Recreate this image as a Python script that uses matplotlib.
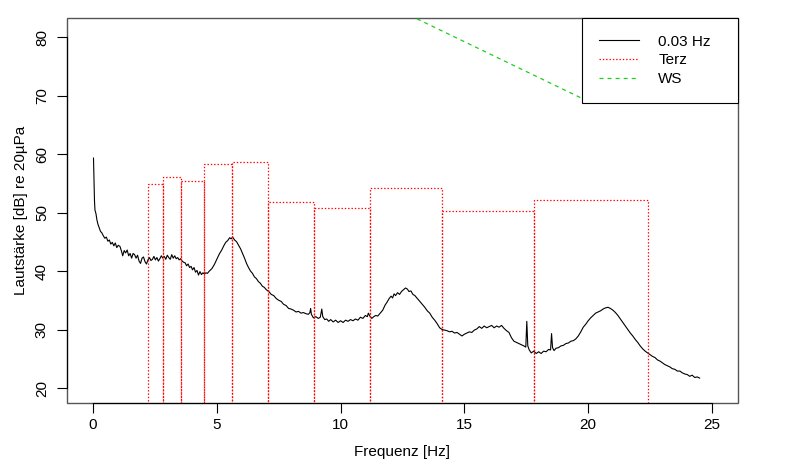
import numpy as np
import matplotlib
matplotlib.use('Agg')
import matplotlib.pyplot as plt
from matplotlib.patches import Rectangle

plt.rcParams['font.family'] = ['Liberation Sans', 'DejaVu Sans']
plt.rcParams['lines.scale_dashes'] = False

## spectrum (0.03 Hz resolution line)
freq = [0.02, 0.04, 0.06, 0.08, 0.12, 0.16, 0.2, 0.25, 0.3, 0.36, 0.42, 0.48, 0.54, 0.6, 0.66, 0.72,
        0.78, 0.84, 0.9, 0.96, 1.02, 1.09, 1.15, 1.2, 1.26, 1.32, 1.38, 1.44, 1.5, 1.56, 1.62, 1.68,
        1.74, 1.8, 1.86, 1.92, 1.98, 2.04, 2.1, 2.16, 2.22, 2.28, 2.34, 2.4, 2.46, 2.52, 2.58, 2.64,
        2.7, 2.76, 2.82, 2.88, 2.94, 3.0, 3.06, 3.12, 3.18, 3.24, 3.3, 3.36, 3.42, 3.48, 3.54, 3.6,
        3.66, 3.72, 3.78, 3.84, 3.9, 3.96, 4.02, 4.08, 4.14, 4.2, 4.26, 4.32, 4.38, 4.44, 4.5, 4.56,
        4.62, 4.7, 4.8, 4.9, 5.0, 5.1, 5.2, 5.28, 5.36, 5.44, 5.52, 5.58, 5.64, 5.72, 5.8, 5.88,
        5.96, 6.04, 6.12, 6.2, 6.28, 6.36, 6.44, 6.52, 6.6, 6.68, 6.76, 6.84, 6.92, 7.0, 7.1, 7.2,
        7.3, 7.4, 7.5, 7.6, 7.7, 7.8, 7.9, 8.0, 8.1, 8.2, 8.3, 8.4, 8.5, 8.6, 8.7, 8.76, 8.79, 8.82,
        8.9, 9.0, 9.1, 9.18, 9.24, 9.28, 9.36, 9.44, 9.52, 9.6, 9.7, 9.8, 9.9, 10.0, 10.1, 10.2,
        10.3, 10.4, 10.5, 10.6, 10.7, 10.8, 10.9, 11.0, 11.08, 11.12, 11.18, 11.26, 11.34, 11.42,
        11.5, 11.6, 11.7, 11.8, 11.88, 11.96, 12.04, 12.1, 12.16, 12.22, 12.3, 12.38, 12.46, 12.54,
        12.62, 12.7, 12.76, 12.84, 12.92, 13.0, 13.1, 13.2, 13.3, 13.4, 13.5, 13.6, 13.7, 13.8,
        13.9, 14.0, 14.1, 14.2, 14.3, 14.4, 14.5, 14.6, 14.7, 14.8, 14.9, 15.0, 15.1, 15.2, 15.3,
        15.4, 15.5, 15.6, 15.7, 15.8, 15.9, 16.0, 16.1, 16.2, 16.3, 16.4, 16.5, 16.6, 16.7, 16.8,
        16.9, 17.0, 17.1, 17.2, 17.3, 17.4, 17.48, 17.52, 17.56, 17.62, 17.7, 17.8, 17.9, 18.0,
        18.1, 18.2, 18.3, 18.4, 18.48, 18.52, 18.56, 18.62, 18.7, 18.8, 18.9, 19.0, 19.1, 19.2,
        19.3, 19.4, 19.5, 19.6, 19.7, 19.8, 19.9, 20.0, 20.1, 20.2, 20.3, 20.4, 20.5, 20.6, 20.7,
        20.8, 20.9, 21.0, 21.1, 21.2, 21.3, 21.4, 21.5, 21.6, 21.7, 21.8, 21.9, 22.0, 22.1, 22.2,
        22.3, 22.4, 22.5, 22.6, 22.7, 22.8, 22.9, 23.0, 23.1, 23.2, 23.3, 23.4, 23.5, 23.6, 23.7,
        23.8, 23.9, 24.0, 24.1, 24.2, 24.3, 24.4, 24.5]
level = [59.3, 55.5, 52.0, 50.4, 49.8, 48.7, 48.0, 47.4, 46.8, 46.5, 46.0, 45.6, 45.8, 45.1, 45.3, 44.6,
         44.9, 44.3, 44.8, 44.0, 44.4, 44.2, 43.4, 42.6, 43.5, 43.1, 43.6, 42.6, 43.0, 42.2, 43.0, 42.8,
         42.2, 42.7, 41.7, 41.3, 42.2, 42.4, 41.6, 41.2, 41.9, 42.3, 41.8, 42.0, 42.5, 41.9, 42.3, 41.7,
         42.1, 42.6, 42.2, 42.5, 42.0, 42.7, 42.3, 42.0, 42.8, 42.2, 42.6, 42.1, 42.3, 41.9, 42.1, 41.7,
         41.5, 41.4, 40.9, 41.2, 40.6, 40.8, 40.2, 40.6, 39.8, 40.1, 39.3, 39.9, 39.4, 39.7, 39.5, 39.7,
         39.6, 40.0, 40.4, 41.1, 42.0, 42.9, 43.6, 44.3, 44.9, 45.2, 45.7, 45.5, 45.8, 45.3, 45.0, 44.4,
         43.8, 43.0, 42.2, 41.3, 40.6, 40.0, 39.6, 39.0, 38.7, 38.2, 37.9, 37.4, 37.2, 36.8, 36.5, 36.0,
         35.8, 35.3, 35.0, 34.8, 34.3, 34.1, 33.6, 33.5, 33.3, 33.0, 33.1, 32.8, 32.9, 32.7, 32.6, 32.9, 33.6, 32.6,
         32.0, 32.2, 31.9, 32.1, 33.5, 32.2, 31.7, 31.8, 31.4, 31.7, 31.3, 31.6, 31.2, 31.5, 31.2, 31.6,
         31.4, 31.7, 31.5, 31.8, 31.6, 32.1, 31.9, 32.4, 32.2, 32.8, 32.3, 31.9, 32.2, 32.4,
         32.3, 32.8, 33.3, 34.2, 34.7, 35.3, 35.7, 35.4, 36.1, 35.8, 36.3, 36.0, 36.5, 36.8,
         37.1, 36.9, 36.5, 36.6, 36.0, 35.8, 35.3, 34.8, 34.3, 33.8, 33.2, 32.8, 32.1, 31.6,
         31.0, 30.3, 30.0, 29.9, 29.8, 29.6, 29.7, 29.4, 29.5, 29.2, 28.9, 29.2, 29.4, 29.6, 29.5,
         29.9, 30.1, 30.5, 30.2, 30.6, 30.3, 30.5, 30.7, 30.3, 30.6, 30.4, 30.7, 30.2, 29.8, 29.5,
         28.6, 28.0, 27.8, 27.6, 27.4, 27.2, 27.0, 31.4, 27.2, 26.5, 26.0, 26.3, 25.9, 26.2,
         25.9, 26.3, 26.2, 26.6, 26.5, 29.3, 26.9, 26.4, 26.8, 26.9, 27.2, 27.3, 27.6, 27.7,
         28.0, 28.1, 28.4, 28.9, 29.6, 30.4, 30.9, 31.5, 32.0, 32.4, 32.8, 33.0, 33.2, 33.5, 33.7,
         33.8, 33.6, 33.3, 32.9, 32.4, 31.8, 31.2, 30.6, 30.0, 29.4, 28.9, 28.3, 27.8, 27.2, 26.7,
         26.3, 26.0, 25.7, 25.4, 25.2, 24.8, 24.6, 24.3, 24.0, 23.8, 23.6, 23.3, 23.2, 22.9, 22.9,
         22.6, 22.4, 22.3, 22.0, 22.2, 21.8, 21.9, 21.7]

## third octave bands (Terz)
terz_lo = [2.24, 2.82, 3.55, 4.47, 5.62, 7.08, 8.91, 11.2, 14.1, 17.8]
terz_hi = [2.82, 3.55, 4.47, 5.62, 7.08, 8.91, 11.2, 14.1, 17.8, 22.4]
terz_db = [54.8, 56.0, 55.4, 58.35, 58.6, 51.85, 50.77, 54.25, 50.26, 52.1]

## WS line
ws_f = [12.5, 20.0]
ws_db = [84.3, 69.0]

fs = 11
fig = plt.figure(figsize=(8, 4.7), dpi=100)
ax = fig.add_axes([67/800, 1 - 403/470, (738-67)/800, (403-18)/470])

ax.plot(freq, level, color='black', lw=0.8, label='0.03 Hz')
dots = (0, (1.0, 1.4))
for lo, hi, db in zip(terz_lo, terz_hi, terz_db):
    ax.plot([lo, lo, hi, hi], [0, db, db, 0], color='red', lw=0.9, linestyle=dots)
ax.plot([], [], color='red', lw=0.9, linestyle=dots, label='Terz')
ax.plot(ws_f, ws_db, color='#1fcc1f', lw=0.9, linestyle=(0, (2.9, 2.9)), label='WS')

ax.set_xlim(-1.05, 26.05)
ax.set_ylim(17.44, 83.25)
ax.set_xticks([0, 5, 10, 15, 20, 25])
ax.set_yticks([20, 30, 40, 50, 60, 70, 80])
ax.tick_params(length=7, width=0.8, labelsize=fs, pad=4)
ax.tick_params(axis='y', pad=6)
for t in ax.get_yticklabels():
    t.set_rotation(90)
    t.set_va('center')

# box in gray, axis lines in black only from first to last tick
for s in ax.spines.values():
    s.set_visible(False)
ax.spines['left'].set_visible(True)
ax.spines['bottom'].set_visible(True)
ax.spines['left'].set_bounds(20, 80)
ax.spines['bottom'].set_bounds(0, 25)
ax.add_patch(Rectangle((0, 0), 1, 1, transform=ax.transAxes, fill=False,
                       edgecolor='#555555', lw=1.0, clip_on=False, zorder=0.5))

ax.set_xlabel('Frequenz [Hz]', fontsize=fs, labelpad=9)
ax.set_ylabel('Lautstärke [dB] re 20µPa', fontsize=fs, labelpad=5)

x0 = (582 - 67) / 671
leg = ax.legend(loc='upper left', bbox_to_anchor=(x0, 0, 1 - x0, 1), mode='expand',
                borderaxespad=0, fancybox=False, edgecolor='black', framealpha=1,
                fontsize=fs, handlelength=2.6, handletextpad=1.3, borderpad=1.1,
                labelspacing=0.3)
leg.get_frame().set_linewidth(0.8)

fig.savefig('out.png', dpi=100)
